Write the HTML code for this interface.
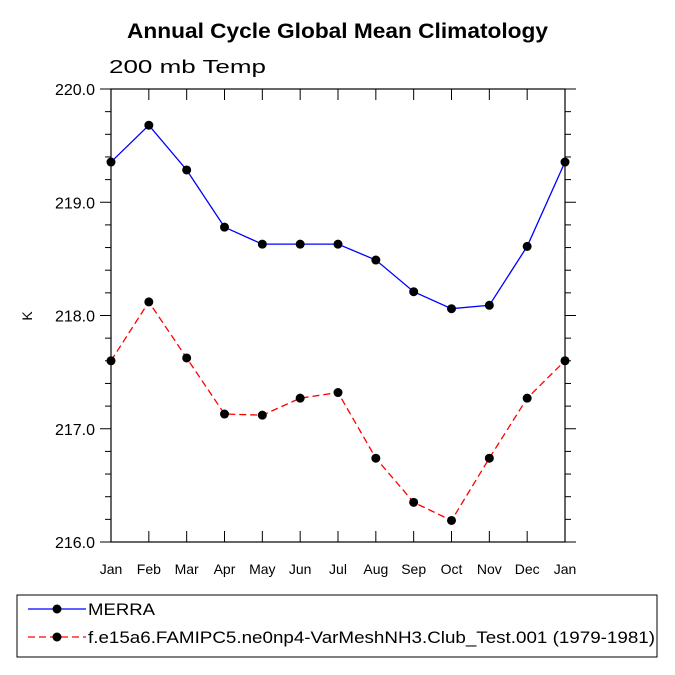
<!DOCTYPE html>
<html><head><meta charset="utf-8"><style>body{margin:0;background:#fff}svg{display:block;font-family:"Liberation Sans",sans-serif}</style></head>
<body>
<svg id="c" width="675" height="675">
<text x="127" y="38" font-size="21" font-weight="bold" textLength="421" lengthAdjust="spacingAndGlyphs">Annual Cycle Global Mean Climatology</text>
<text x="109" y="73" font-size="18" textLength="157" lengthAdjust="spacingAndGlyphs">200 mb Temp</text>
<text x="32" y="316" font-size="14" text-anchor="middle" transform="rotate(-90 32 316)">K</text>
<g id="g"></g>
<rect x="17" y="595" width="640" height="62" fill="none" stroke="#000"/>
<line x1="28" y1="609" x2="86" y2="609" stroke="#00f" stroke-width="1.3"/>
<circle cx="57" cy="609" r="4.5"/>
<text x="88" y="615" font-size="17" textLength="67" lengthAdjust="spacingAndGlyphs">MERRA</text>
<line x1="28" y1="637" x2="86" y2="637" stroke="#f00" stroke-width="1.3" stroke-dasharray="7,4"/>
<circle cx="57" cy="637" r="4.5"/>
<text x="88" y="643" font-size="17" textLength="567" lengthAdjust="spacingAndGlyphs">f.e15a6.FAMIPC5.ne0np4-VarMeshNH3.Club_Test.001 (1979-1981)</text>
</svg>
<script>
const months=["Jan","Feb","Mar","Apr","May","Jun","Jul","Aug","Sep","Oct","Nov","Dec","Jan"];
const merra=[219.355,219.68,219.285,218.78,218.63,218.63,218.63,218.49,218.21,218.06,218.09,218.61,219.355];
const model=[217.6,218.12,217.625,217.13,217.12,217.27,217.32,216.74,216.35,216.19,216.74,217.27,217.6];
const yTicks=["216.0","217.0","218.0","219.0","220.0"];
const L=111,R=565,T=89,B=542,ymin=216,ymax=220;
const X=i=>L+(R-L)*i/12, Y=v=>B-(v-ymin)/(ymax-ymin)*(B-T);
const g=document.getElementById('g'),NS="http://www.w3.org/2000/svg";
function mk(t,a,p){const e=document.createElementNS(NS,t);for(const k in a)e.setAttribute(k,a[k]);(p||g).appendChild(e);return e;}
let e=mk('rect',{x:L,y:T,width:R-L,height:B-T,fill:'none',stroke:'#000','stroke-width':1.2});


months.forEach((m,i)=>{const x=X(i);
 let t=mk('line',{x1:x,y1:T,x2:x,y2:T+11,stroke:'#000'});
 
 
 t=mk('line',{x1:x,y1:B,x2:x,y2:B-11,stroke:'#000'});
 
 
 const l=mk('text',{x:x,y:B+32,'text-anchor':'middle','font-size':14});l.textContent=m;
 
 });
for(let k=0;k<=20;k++){const v=ymin+k*0.2,y=Y(v),maj=k%5==0,len=maj?11:6;
 let t=mk('line',{x1:L,y1:y,x2:L-len,y2:y,stroke:'#000'});
 
 
 t=mk('line',{x1:R,y1:y,x2:R+len,y2:y,stroke:'#000'});
 
 }
yTicks.forEach(s=>{const l=mk('text',{x:L-16,y:Y(+s)+6,'text-anchor':'end','font-size':16});l.textContent=s;
 
 });
function series(d,col,dash,name){
 const p=mk('polyline',{points:d.map((v,i)=>X(i)+','+Y(v)).join(' '),fill:'none',stroke:col,'stroke-width':1.3,'stroke-dasharray':dash});
 
 
 d.forEach((v,i)=>{const c=mk('circle',{cx:X(i),cy:Y(v),r:4.5});
  
  });}
series(merra,'#00f','none','merra');
series(model,'#f00','7,4','model');
</script>
</body></html>
